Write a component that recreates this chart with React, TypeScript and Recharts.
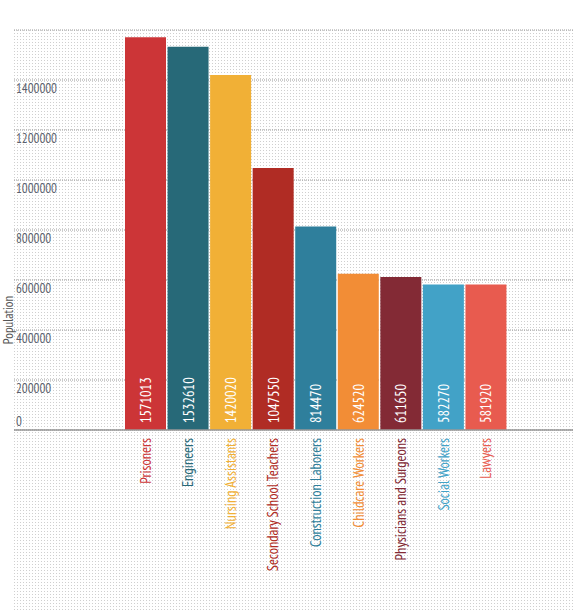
import React from 'react';
import { BarChart, Bar, XAxis, YAxis, CartesianGrid, Cell, LabelList } from 'recharts';

const categories = [
  'Prisoners',
  'Engineers',
  'Nursing Assistants',
  'Secondary School Teachers',
  'Construction Laborers',
  'Childcare Workers',
  'Physicians and Surgeons',
  'Social Workers',
  'Lawyers',
];
const populationValues = [1571013, 1532610, 1420020, 1047550, 814470, 624520, 611650, 582270, 581920];
const barColors = ['#cc3537', '#276978', '#f1b036', '#b02c24', '#2f7f9c', '#f28d36', '#832a35', '#42a2c7', '#e85b4f'];
const yTicks = [0, 200000, 400000, 600000, 800000, 1000000, 1200000, 1400000];

const data = categories.map((name, i) => ({ name, value: populationValues[i], color: barColors[i] }));

const FONT = '"Liberation Sans Narrow", "PT Sans Narrow", "Roboto Condensed", "DejaVu Sans Condensed", "Arial Narrow", sans-serif';

const dotBg =
  "url(\"data:image/svg+xml,%3Csvg xmlns='http://www.w3.org/2000/svg' width='3' height='3'%3E%3Crect width='1' height='1' fill='%23cfcfcf'/%3E%3C/svg%3E\")";

const YTick = (props: any) => {
  const { y, payload } = props;
  const v = payload.value;
  const dy = v === 0 ? -4 : 13;
  return (
    <text x={16} y={y + dy} fill="#5a5f6e" fontSize={13} fontFamily={FONT} textAnchor="start">
      {v}
    </text>
  );
};

const XTick = (props: any) => {
  const { x, payload, index } = props;
  const color = barColors[index] ?? '#333';
  const yy = 438;
  return (
    <text
      x={x}
      y={yy}
      transform={`rotate(-90, ${x}, ${yy})`}
      fill={color}
      fontSize={14.5}
      fontFamily={FONT}
      textAnchor="end"
      dominantBaseline="central"
    >
      {payload.value}
    </text>
  );
};

const ValueLabel = (props: any) => {
  const { x, y, width, height, value } = props;
  const cx = x + width / 2;
  const by = y + height - 7;
  return (
    <text
      x={cx}
      y={by}
      transform={`rotate(-90, ${cx}, ${by})`}
      fill="#ffffff"
      fontSize={14.5}
      fontFamily={FONT}
      textAnchor="start"
      dominantBaseline="central"
    >
      {value}
    </text>
  );
};

const PopLabel = () => (
  <text
    x={12.5}
    y={320}
    transform="rotate(-90, 12.5, 320)"
    fill="#555"
    fontSize={13}
    fontFamily={FONT}
    textAnchor="middle"
  >
    Population
  </text>
);

export default function App() {
  return (
    <div style={{ position: 'absolute', left: 0, top: 0, width: 581, height: 616 }}>
      <div
        style={{
          position: 'absolute',
          left: 14,
          top: 30,
          width: 559,
          height: 580,
          backgroundImage: dotBg,
        }}
      />
      <div style={{ position: 'absolute', left: 0, top: 0 }}>
        <BarChart
          width={581}
          height={616}
          data={data}
          margin={{ top: 30, right: 8, left: 0, bottom: 156 }}
          barCategoryGap={1}
        >
          <CartesianGrid vertical={false} stroke="#9a9a9a" strokeDasharray="1 1" />
          <YAxis
            width={14}
            domain={[0, 1600000]}
            ticks={yTicks}
            axisLine={false}
            tickLine={false}
            tick={<YTick />}
            interval={0}
            label={<PopLabel />}
          />
          <XAxis
            dataKey="name"
            height={30}
            padding={{ left: 110, right: 66 }}
            axisLine={{ stroke: '#999', strokeWidth: 1.5 }}
            tickLine={false}
            tick={<XTick />}
            interval={0}
          />
          <Bar dataKey="value" isAnimationActive={false}>
            {data.map((d, i) => (
              <Cell key={i} fill={d.color} />
            ))}
            <LabelList dataKey="value" content={<ValueLabel />} />
          </Bar>
        </BarChart>
      </div>
    </div>
  );
}
